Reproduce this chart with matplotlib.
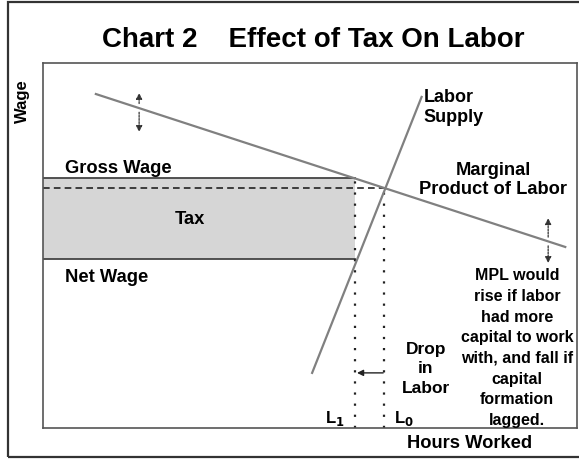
import matplotlib.pyplot as plt
from matplotlib.patches import Rectangle

plt.rcParams['font.family'] = ['Liberation Sans', 'DejaVu Sans']
plt.rcParams['font.weight'] = 'bold'

# diagram values (hours 0-100, wage 0-100)
mpl_hours = [9.9, 97.8]
mpl_wage = [91.5, 49.6]
supply_hours = [50.4, 70.9]
supply_wage = [15.1, 90.7]
gross_wage = 68.5
net_wage = 46.3
eq_wage = 65.8
L1 = 58.4
L0 = 63.9
drop_arrow_wage = 15.1
shift_arrows = [(18.0, 87.7, 91.8, 81.1), (94.6, 51.1, 57.5, 45.2)]  # x, line y, top, bottom


def draw_chart():
    fig = plt.figure(figsize=(5.79, 4.59), dpi=100)
    W, H = 579, 459
    # outer frame
    fig.patches.append(Rectangle((8 / W, 2 / H), 1.0, 455 / H, transform=fig.transFigure,
                                 fill=False, edgecolor='#333333', linewidth=1.6))
    ax = fig.add_axes([43 / W, (H - 428) / H, 534 / W, 365 / H])
    ax.set_xlim(0, 100)
    ax.set_ylim(0, 100)
    ax.set_xticks([])
    ax.set_yticks([])
    for s in ax.spines.values():
        s.set_color('#555555')
        s.set_linewidth(1.2)

    # tax wedge
    ax.add_patch(Rectangle((0, net_wage), L1, gross_wage - net_wage,
                           facecolor='#d6d6d6', edgecolor='none'))
    ax.plot([0, L1], [gross_wage, gross_wage], color='#444444', lw=1.3)
    ax.plot([0, L1], [net_wage, net_wage], color='#444444', lw=1.3)
    ax.plot([0, L0], [eq_wage, eq_wage], color='#222222', lw=1.2, ls=(0, (4, 2.5)))
    ax.plot([L1, L1], [0, gross_wage], color='#222222', lw=1.6, ls=(0, (1, 4)))
    ax.plot([L0, L0], [0, eq_wage], color='#222222', lw=1.6, ls=(0, (1, 4)))

    # curves
    ax.plot(mpl_hours, mpl_wage, color='#808080', lw=1.6)
    ax.plot(supply_hours, supply_wage, color='#808080', lw=1.6)

    # arrows
    ax.annotate('', xy=(L1 + 0.4, drop_arrow_wage), xytext=(L0 - 0.2, drop_arrow_wage),
                arrowprops=dict(arrowstyle='-|>', color='#222222', lw=1.0,
                                mutation_scale=9, shrinkA=0, shrinkB=0))
    for x, y0, top, bottom in shift_arrows:
        for tip in (top, bottom):
            start = y0 + (1.2 if tip > y0 else -1.2)
            ax.annotate('', xy=(x, tip), xytext=(x, start),
                        arrowprops=dict(arrowstyle='-|>', color='#333333', lw=0.9,
                                        mutation_scale=9, shrinkA=0, shrinkB=0,
                                        linestyle=(0, (1.5, 1))))

    # labels
    fig.text(313 / W, 1 - 40 / H, 'Chart 2    Effect of Tax On Labor', ha='center', va='center',
             fontsize=20)
    fig.text(22 / W, 1 - 101 / H, 'Wage', rotation=90, ha='center', va='center', fontsize=12)
    fig.text(470 / W, 1 - 444 / H, 'Hours Worked', ha='center', va='center', fontsize=13.2)
    ax.text(4.1, 71.2, 'Gross Wage', ha='left', va='center', fontsize=13.2)
    ax.text(27.5, 57.0, 'Tax', ha='center', va='center', fontsize=13.2)
    ax.text(4.1, 41.1, 'Net Wage', ha='left', va='center', fontsize=13.2)
    ax.text(71.3, 87.8, 'Labor\nSupply', ha='left', va='center', fontsize=13, linespacing=1.2)
    ax.text(84.3, 67.9, 'Marginal\nProduct of Labor', ha='center', va='center', fontsize=13.2,
            linespacing=1.16)
    ax.text(88.8, 21.9, 'MPL would\nrise if labor\nhad more\ncapital to work\nwith, and fall if\n'
            'capital\nformation\nlagged.', ha='center', va='center', fontsize=11.5,
            linespacing=1.47)
    ax.text(71.7, 16.2, 'Drop\nin\nLabor', ha='center', va='center', fontsize=12.5,
            linespacing=1.4)
    ax.text(56.5, 2.7, r'L$_\mathbf{1}$', ha='right', va='center', fontsize=12)
    ax.text(65.8, 2.7, r'L$_\mathbf{0}$', ha='left', va='center', fontsize=12)

    fig.savefig('out.png', dpi=100)


if __name__ == '__main__':
    draw_chart()
